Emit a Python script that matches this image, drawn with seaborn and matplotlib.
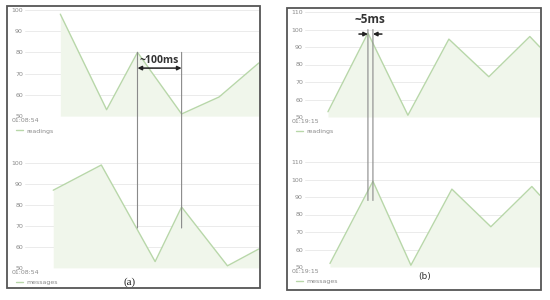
import numpy as np
import pandas as pd
import matplotlib.pyplot as plt
import seaborn as sns
from matplotlib.patches import ConnectionPatch, Rectangle

# (a) time in ms after 01:08:54
a_read_t = [80, 185, 255, 355, 440, 530]
a_read_v = [98, 53, 80, 51, 59, 75]
a_msg_t = [64, 173, 295, 355, 459, 530]
a_msg_v = [87, 99, 53, 79, 51, 59]

# (b) time in ms after 01:19:15
b_read_t = [23, 63, 103, 144, 184, 225, 235]
b_read_v = [53, 98, 51, 94.5, 73, 96, 90]
b_msg_t = [25, 68, 106, 147, 186, 227, 235]
b_msg_v = [52, 99, 51, 94.5, 73, 96, 91]

sns.set_style("white")
plt.rcParams['font.family'] = ['DejaVu Sans']

line_col = "#b8d7a9"
fill_col = "#f0f6eb"
grid_col = "#ebebeb"
txt_col = "#8a8a8a"

fig = plt.figure(figsize=(5.5, 3), dpi=100)


def panel(rect, t, v, label, start, xmax, ymax):
    ax = fig.add_axes(rect)
    df = pd.DataFrame({"t": t, "v": v})
    sns.lineplot(data=df, x="t", y="v", ax=ax, color=line_col, lw=1, label=label)
    ax.fill_between(df["t"], df["v"], 50, color=fill_col, lw=0)
    ax.set_xlim(0, xmax)
    ax.set_ylim(50, ymax)
    ax.set_yticks(np.arange(50, ymax + 1, 10))
    ax.set_xticks([0])
    ax.set_xticklabels([start])
    ax.set_xlabel("")
    ax.set_ylabel("")
    ax.grid(axis="y", color=grid_col, lw=0.7)
    ax.set_axisbelow(True)
    for s in ax.spines.values():
        s.set_visible(False)
    ax.tick_params(length=0, labelsize=4.5, labelcolor=txt_col, pad=1.5)
    leg = ax.legend(loc="upper left", bbox_to_anchor=(-0.05, -0.09), frameon=False,
                    fontsize=4.5, handlelength=1.2, handletextpad=0.5, borderaxespad=0)
    for tx in leg.get_texts():
        tx.set_color(txt_col)
    return ax


ax1 = panel([0.0455, 0.613, 0.425, 0.354], a_read_t, a_read_v, "readings", "01:08:54", 530, 100)
ax2 = panel([0.0455, 0.107, 0.425, 0.350], a_msg_t, a_msg_v, "messages", "01:08:54", 530, 100)
ax3 = panel([0.5545, 0.610, 0.427, 0.350], b_read_t, b_read_v, "readings", "01:19:15", 235, 110)
ax4 = panel([0.5545, 0.110, 0.427, 0.350], b_msg_t, b_msg_v, "messages", "01:19:15", 235, 110)

# vertical markers linking the peaks
t1, t2 = a_read_t[2], a_msg_t[3]
for t in (t1, t2):
    fig.add_artist(ConnectionPatch(xyA=(t, 80), coordsA=ax1.transData, xyB=(t, 69),
                                   coordsB=ax2.transData, color="#8a8a8a", lw=0.8))
ax1.annotate("", xy=(t1, 72.6), xytext=(t2, 72.6),
             arrowprops=dict(arrowstyle="<|-|>", color="#222222", lw=1.1,
                             mutation_scale=6, shrinkA=0, shrinkB=0))
ax1.text((t1 + t2) / 2, 76, "~100ms", ha="center", va="center", fontsize=7.5,
         fontweight="bold", color="#333333", family="Open Sans")

u1, u2 = b_read_t[1], b_msg_t[1]
for t in (u1, u2):
    fig.add_artist(ConnectionPatch(xyA=(t, 100), coordsA=ax3.transData, xyB=(t, 88),
                                   coordsB=ax4.transData, color="#8a8a8a", lw=0.8))
ax3.annotate("", xy=(u1, 97.4), xytext=(u1 - 9, 97.4),
             arrowprops=dict(arrowstyle="-|>", color="#222222", lw=1.1,
                             mutation_scale=6, shrinkA=0, shrinkB=0))
ax3.annotate("", xy=(u2, 97.4), xytext=(u2 + 9, 97.4),
             arrowprops=dict(arrowstyle="-|>", color="#222222", lw=1.1,
                             mutation_scale=6, shrinkA=0, shrinkB=0))
ax3.text((u1 + u2) / 2, 105.5, "~5ms", ha="center", va="center", fontsize=8.5,
         fontweight="bold", color="#333333", family="Open Sans")

# panel frames and captions
fig.patches.append(Rectangle((7 / 550, 1 - 288 / 300), 253 / 550, 282 / 300,
                             transform=fig.transFigure, fill=False, ec="#555555", lw=1.3))
fig.patches.append(Rectangle((287 / 550, 1 - 290 / 300), 254 / 550, 282 / 300,
                             transform=fig.transFigure, fill=False, ec="#555555", lw=1.3))
fig.text(130 / 550, 1 - 282 / 300, "(a)", ha="center", va="center", fontsize=8,
         family="Liberation Serif", color="#222222")
fig.text(425 / 550, 1 - 277 / 300, "(b)", ha="center", va="center", fontsize=6.5,
         color="#333333")

fig.savefig("out.png", dpi=100)
